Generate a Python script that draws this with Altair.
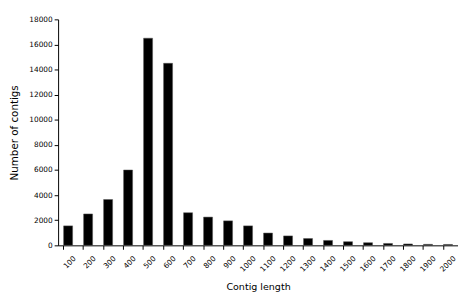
import altair as alt
import pandas as pd

lengths = ["100", "200", "300", "400", "500", "600", "700", "800", "900", "1000",
           "1100", "1200", "1300", "1400", "1500", "1600", "1700", "1800", "1900", "2000"]
counts = [1550, 2500, 3650, 6000, 16500, 14500, 2600, 2250, 1950, 1550,
          980, 750, 540, 390, 290, 210, 150, 110, 80, 70]

df = pd.DataFrame({"length": lengths, "count": counts})

font = "DejaVu Sans"

chart = alt.Chart(df).mark_bar(color="black", stroke="#555", strokeWidth=0.5).encode(
    x=alt.X("length:N", sort=lengths,
            scale=alt.Scale(paddingInner=0.55, paddingOuter=0.275),
            axis=alt.Axis(title="Contig length", labelAngle=-45, labelAlign="right",
                          labelBaseline="middle", bandPosition=0, labelOffset=7,
                          labelPadding=8, tickSize=4, tickColor="black", domainColor="black",
                          labelFont=font, labelFontSize=7.5, labelColor="black",
                          titleFont=font, titleFontSize=9.7, titleFontWeight="normal",
                          titleColor="black", titlePadding=9, labelOverlap=False,
                          labelBound=False, labelFlush=False)),
    y=alt.Y("count:Q", scale=alt.Scale(domain=[0, 18000], nice=False),
            axis=alt.Axis(title="Number of contigs", values=list(range(0, 18001, 2000)),
                          format="d", grid=False, tickSize=4, tickColor="black",
                          domainColor="black",
                          labelFont=font, labelFontSize=7.5, labelColor="black",
                          titleFont=font, titleFontSize=10.5, titleFontWeight="normal",
                          titleColor="black", titlePadding=9)),
).properties(
    width=407, height=230,
    autosize=alt.AutoSizeParams(type="none"),
    padding={"left": 51, "top": 9, "right": 0, "bottom": 49},
).configure_view(stroke=None)

chart.save("out.html", embed_options={"renderer": "svg", "actions": False})
